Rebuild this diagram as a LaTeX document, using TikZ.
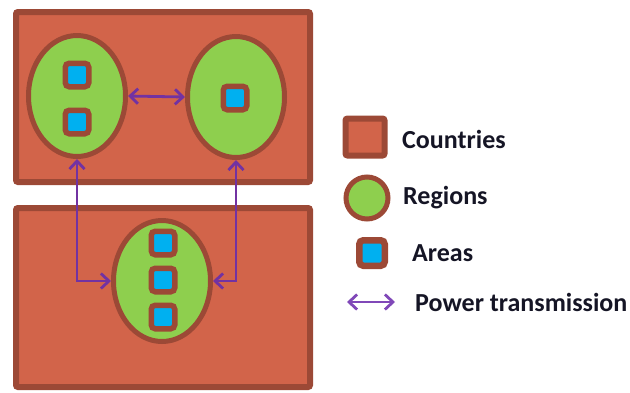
\documentclass[tikz,border=0pt]{standalone}
\usepackage{fontspec}
\setmainfont{Carlito}
\usetikzlibrary{shapes.geometric,arrows.meta}
\definecolor{cfill}{HTML}{D2644A}
\definecolor{cbord}{HTML}{9C4936}
\definecolor{rfill}{HTML}{8ECF4E}
\definecolor{afill}{HTML}{00B0F0}
\definecolor{pline}{HTML}{7232A2}
\definecolor{plight}{HTML}{8048B8}
\definecolor{ltext}{HTML}{151525}
\tikzset{
  country/.style={rectangle, fill=cfill, draw=cbord, line width=6pt, rounded corners=2pt, inner sep=0pt},
  region/.style={ellipse, fill=rfill, draw=cbord, line width=5pt, inner sep=0pt, minimum width=97pt, minimum height=121pt},
  area/.style={rectangle, fill=afill, draw=cbord, line width=5.5pt, rounded corners=4pt, inner sep=0pt, minimum size=23.5pt},
  power/.style={pline, line width=2.8pt, {Straight Barb[length=8pt,width=15pt]}-{Straight Barb[length=8pt,width=15pt]}},
  legtext/.style={anchor=west, text=ltext, font=\fontsize{26}{29}\selectfont\bfseries, inner sep=0pt}
}
\begin{document}
\begin{tikzpicture}[x=1pt,y=-1pt]
\useasboundingbox (0,0) rectangle (630,392);
% countries
\node[country, minimum width=294pt, minimum height=170pt] (ctop) at (163,97) {};
\node[country, minimum width=294pt, minimum height=179pt] (cbot) at (163,297.5) {};
% regions
\node[region] (rl) at (77,96) {};
\node[region] (rr) at (236,97) {};
\node[region] (rb) at (162,281) {};
% areas
\node[area] (a1) at (77,75) {};
\node[area] (a2) at (77,122) {};
\node[area] (a3) at (235,98) {};
\node[area] (a4) at (163,243) {};
\node[area] (a5) at (163,280) {};
\node[area] (a6) at (163,317) {};
% power transmission
\draw[power] (rl.east) -- (rr.west);
\draw[power] (rl.south) |- (rb.west);
\draw[power] (rr.south) |- (rb.east);
% legend
\node[country, minimum width=39pt, minimum height=37pt] (lc) at (365,137) {};
\node[circle, fill=rfill, draw=cbord, line width=5pt, inner sep=0pt, minimum size=42pt] (lr) at (367,198) {};
\node[area, line width=6.5pt, minimum size=25.5pt] (la) at (372,253) {};
\coordinate (lp1) at (347,302);
\coordinate (lp2) at (395,302);
\draw[power, plight] (lp1) -- (lp2);
\node[legtext] (tc) at (402,139) {Countries};
\node[legtext] (tr) at (403,198) {Regions};
\node[legtext] (ta) at (412,253) {Areas};
\node[legtext] (tp) at (415,302) {Power transmission};
\end{tikzpicture}
\end{document}
